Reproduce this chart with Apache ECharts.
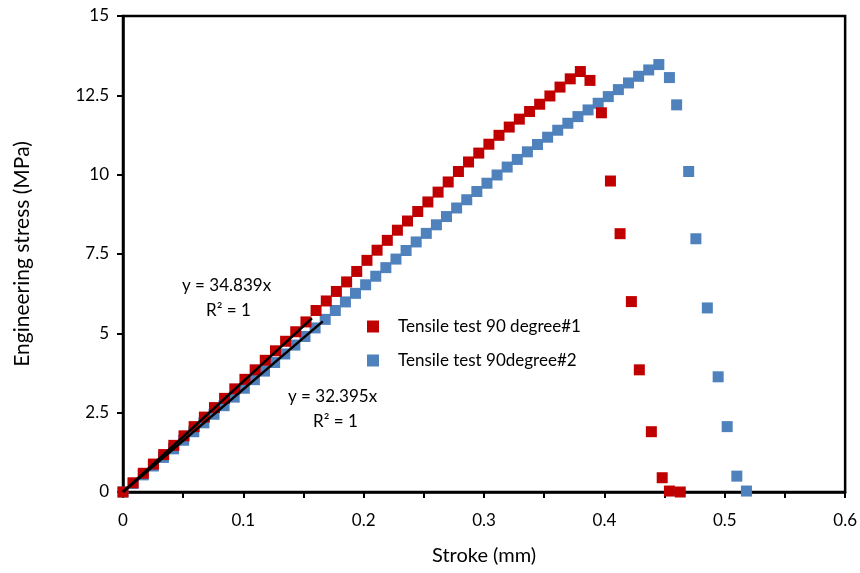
<!DOCTYPE html>
<html>
<head>
<meta charset="utf-8">
<script src="https://cdn.jsdelivr.net/npm/echarts@6/dist/echarts.min.js"></script>
<style>
html,body{margin:0;padding:0;background:#fff;}
#chart{width:860px;height:573px;}
</style>
</head>
<body>
<div id="chart"></div>
<script>
// Tensile test 90 degree#1 (red)
const strokeRed = [0,0.0084,0.0169,0.0253,0.0338,0.0422,0.0507,0.0591,0.0676,0.0760,0.0844,0.0929,0.1013,0.1098,0.1182,0.1267,0.1351,0.1435,0.1520,0.1604,0.1689,0.1773,0.1858,0.1942,0.2027,0.2111,0.2196,0.2280,0.2364,0.2449,0.2533,0.2618,0.2702,0.2787,0.2871,0.2956,0.3040,0.3124,0.3209,0.3293,0.3378,0.3462,0.3547,0.3631,0.3716,0.3800,0.3880,0.3975,0.4050,0.4130,0.4224,0.4290,0.4390,0.4480,0.4540,0.4630];
const stressRed = [0,0.29,0.59,0.88,1.18,1.47,1.77,2.06,2.36,2.66,2.95,3.25,3.55,3.85,4.15,4.45,4.75,5.05,5.36,5.72,6.02,6.32,6.62,6.95,7.30,7.62,7.93,8.25,8.54,8.84,9.14,9.45,9.77,10.10,10.40,10.68,10.96,11.24,11.50,11.75,11.99,12.22,12.48,12.76,13.02,13.25,12.97,11.95,9.80,8.14,6.00,3.85,1.90,0.45,0.03,0.00];
// Tensile test 90degree#2 (blue)
const strokeBlue = [0,0.0084,0.0168,0.0252,0.0336,0.0420,0.0504,0.0588,0.0672,0.0756,0.0840,0.0924,0.1008,0.1092,0.1176,0.1260,0.1344,0.1428,0.1512,0.1596,0.1680,0.1764,0.1848,0.1932,0.2016,0.2100,0.2184,0.2268,0.2352,0.2436,0.2520,0.2604,0.2688,0.2772,0.2856,0.2940,0.3024,0.3108,0.3192,0.3276,0.3360,0.3444,0.3528,0.3612,0.3696,0.3780,0.3864,0.3948,0.4032,0.4116,0.4200,0.4284,0.4368,0.4452,0.4540,0.4600,0.4700,0.4760,0.4855,0.4945,0.5020,0.5100,0.5180];
const stressBlue = [0,0.27,0.54,0.82,1.09,1.36,1.63,1.90,2.18,2.45,2.72,2.99,3.27,3.54,3.81,4.08,4.35,4.63,4.90,5.17,5.44,5.72,5.99,6.26,6.53,6.80,7.07,7.34,7.61,7.88,8.15,8.42,8.68,8.95,9.21,9.47,9.73,9.99,10.24,10.48,10.72,10.95,11.18,11.40,11.62,11.83,12.04,12.25,12.46,12.68,12.89,13.10,13.30,13.47,13.06,12.20,10.10,7.98,5.80,3.63,2.06,0.50,0.03];
// Linear trend lines (through origin)
const slopeRed = 34.839;
const slopeBlue = 32.395;
const trendRangeRed = [0, 0.157];
const trendRangeBlue = [0, 0.166];
const seriesNames = ['Tensile test 90 degree#1', 'Tensile test 90degree#2'];
const xTicks = [0, 0.1, 0.2, 0.3, 0.4, 0.5, 0.6];
const yTicks = [0, 2.5, 5, 7.5, 10, 12.5, 15];

const FONT = 'Lato, "Open Sans", sans-serif';
const zip = (a, b) => a.map((v, i) => [v, b[i]]);
const chart = echarts.init(document.getElementById('chart'));
chart.setOption({
  animation: false,
  backgroundColor: '#fff',
  grid: {left: 123, right: 14, top: 16, bottom: 81, show: true, borderColor: '#000', borderWidth: 2.5},
  legend: {
    orient: 'vertical', left: 362, top: 313, itemWidth: 12, itemHeight: 12, itemGap: 17,
    icon: 'rect',
    textStyle: {fontFamily: FONT, fontSize: 17, color: '#000', padding: [0, 0, 0, 14]},
    data: [{name: seriesNames[0], icon: 'rect'}, {name: seriesNames[1], icon: 'rect'}]
  },
  xAxis: {
    type: 'value', min: 0, max: 0.6, interval: 0.05,
    name: 'Stroke (mm)', nameLocation: 'middle', nameGap: 54,
    nameTextStyle: {fontFamily: FONT, fontSize: 20, color: '#000'},
    axisLine: {show: true, onZero: false, lineStyle: {color: '#000', width: 2.5}},
    axisTick: {show: true, length: 6, lineStyle: {color: '#000', width: 2}},
    splitLine: {show: false},
    axisLabel: {
      fontFamily: FONT, fontSize: 17, color: '#000', margin: 20,
      formatter: v => { const r = Math.round(v * 100); if (r % 10 !== 0) return ''; const t = xTicks.find(k => Math.abs(k - v) < 1e-6); return t === undefined ? '' : String(t); }
    }
  },
  yAxis: {
    type: 'value', min: 0, max: 15, interval: 2.5,
    name: 'Engineering stress (MPa)', nameLocation: 'middle', nameGap: 90, nameRotate: 90,
    nameTextStyle: {fontFamily: FONT, fontSize: 21, color: '#000'},
    axisLine: {show: true, onZero: false, lineStyle: {color: '#000', width: 2.5}},
    axisTick: {show: true, length: 6, lineStyle: {color: '#000', width: 2}},
    splitLine: {show: false},
    axisLabel: {
      fontFamily: FONT, fontSize: 17, color: '#000', margin: 14,
      formatter: v => { const t = yTicks.find(k => Math.abs(k - v) < 1e-6); return t === undefined ? '' : String(t); }
    }
  },
  series: [
    {
      name: seriesNames[1], type: 'scatter', symbol: 'rect', symbolSize: 11,
      itemStyle: {color: '#4F81BD', opacity: 1},
      data: zip(strokeBlue, stressBlue), z: 2
    },
    {
      name: seriesNames[0], type: 'scatter', symbol: 'rect', symbolSize: 11,
      itemStyle: {color: '#C00000', opacity: 1},
      data: zip(strokeRed, stressRed), z: 3
    },
    {
      name: 'trendRed', type: 'line', symbol: 'none', silent: true, z: 5,
      lineStyle: {color: '#000', width: 2.5},
      data: trendRangeRed.map(x => [x, slopeRed * x])
    },
    {
      name: 'trendBlue', type: 'line', symbol: 'none', silent: true, z: 5,
      lineStyle: {color: '#000', width: 2.5},
      data: trendRangeBlue.map(x => [x, slopeBlue * x])
    }
  ],
  graphic: [
    {type: 'text', left: 182, top: 277, style: {text: 'y = 34.839x', font: '17px ' + FONT, fill: '#000'}},
    {type: 'text', left: 206, top: 302, style: {text: 'R² = 1', font: '17px ' + FONT, fill: '#000'}},
    {type: 'text', left: 288, top: 388, style: {text: 'y = 32.395x', font: '17px ' + FONT, fill: '#000'}},
    {type: 'text', left: 313, top: 413, style: {text: 'R² = 1', font: '17px ' + FONT, fill: '#000'}}
  ]
});
</script>
</body>
</html>
